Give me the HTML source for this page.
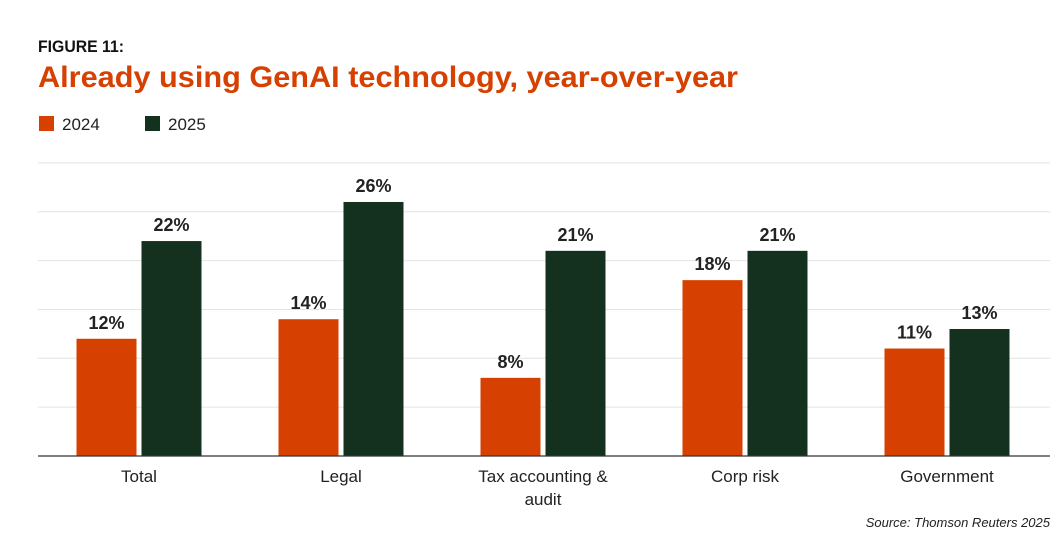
<!DOCTYPE html>
<html><head><meta charset="utf-8"><style>
html,body{margin:0;padding:0;background:#fff;}
svg{display:block;font-family:"Liberation Sans",sans-serif;}
</style></head><body>
<svg id="chart" width="1064" height="554" viewBox="0 0 1064 554" xmlns="http://www.w3.org/2000/svg">
<text x="38" y="52" font-size="17" font-weight="bold" fill="#111" textLength="86" lengthAdjust="spacingAndGlyphs">FIGURE 11:</text>
<text x="38" y="87" font-size="30" font-weight="bold" fill="#D64000" textLength="700" lengthAdjust="spacingAndGlyphs">Already using GenAI technology, year-over-year</text>
<g>
<rect x="39" y="116" width="15" height="15" fill="#D64000"/>
<text x="62" y="130" font-size="17" fill="#222">2024</text>
<rect x="145" y="116" width="15" height="15" fill="#14301F"/>
<text x="168" y="130" font-size="17" fill="#222">2025</text>
</g>
<g id="grid"></g><g id="bars"></g><g id="labels"></g>
<line x1="38" x2="1050" y1="456" y2="456" stroke="#333" stroke-width="1.2"/>
<text x="1050" y="527" font-size="13" font-style="italic" fill="#222" text-anchor="end">Source: Thomson Reuters 2025</text>
</svg>
<script>
const categories = [["Total"],["Legal"],["Tax accounting &","audit"],["Corp risk"],["Government"]];
const values2024 = [12,14,8,18,11];
const values2025 = [22,26,21,21,13];
const gridTicks = [5,10,15,20,25,30];
const NS="http://www.w3.org/2000/svg";
const y0=456, pxPer=9.77, left=38, step=202, bw=60, gap=5;
const y=v=>y0-v*pxPer;
const cx=i=>left+101+i*step;
function mk(t,a,p){const e=document.createElementNS(NS,t);for(const k in a)e.setAttribute(k,a[k]);p.appendChild(e);return e;}
const G=document.getElementById('grid'),B=document.getElementById('bars'),L=document.getElementById('labels');
gridTicks.forEach(t=>{const l=mk('line',{x1:left,x2:1050,y1:y(t),y2:y(t),stroke:'#e4e4e4','stroke-width':1},G);

});
categories.forEach((c,i)=>{
 [[values2024[i],'#D64000',cx(i)-gap/2-bw,'2024'],[values2025[i],'#14301F',cx(i)+gap/2,'2025']].forEach(([v,col,x,s])=>{
  const r=mk('rect',{x:x,y:y(v),width:bw,height:v*pxPer,fill:col},B);
  
  
  const t=mk('text',{x:x+bw/2,y:y(v)-10,'text-anchor':'middle','font-size':18,'font-weight':'bold',fill:'#222'},L);
  t.textContent=v+'%';
  
  
 });
 c.forEach((line,j)=>{const t=mk('text',{x:cx(i),y:482+j*23,'text-anchor':'middle','font-size':17,fill:'#222'},L);
  t.textContent=line;
  
  });
});
</script>
</body></html>
